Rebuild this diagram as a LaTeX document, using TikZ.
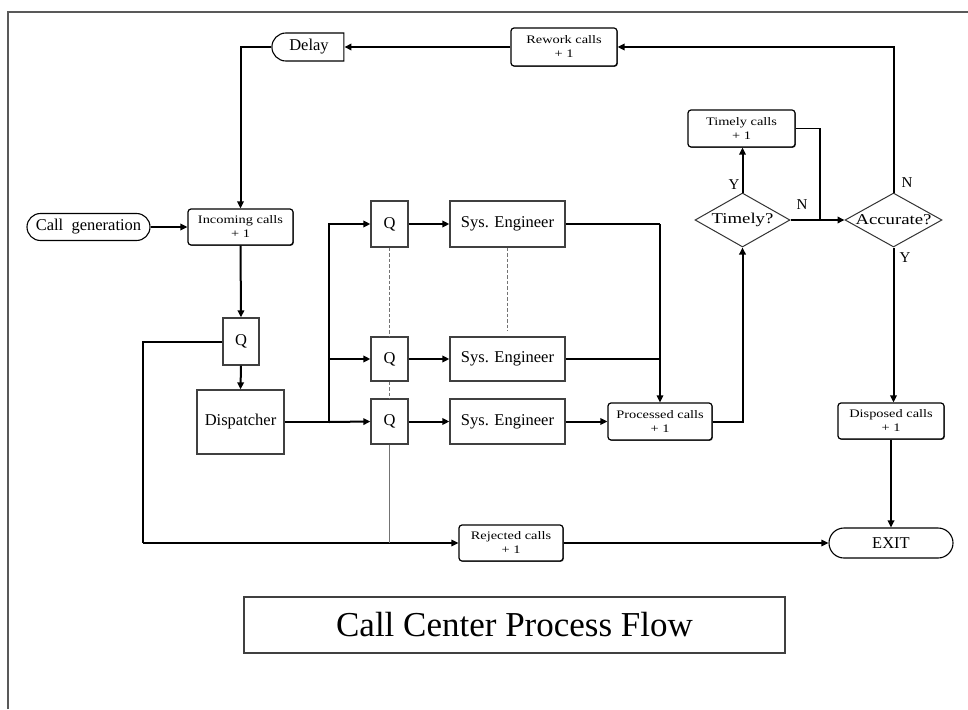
\documentclass[tikz,border=0pt]{standalone}
\usepackage{fontspec}
\setmainfont{Liberation Serif}
\newfontfamily\cntfont[FakeStretch=1.25]{Liberation Serif}
\usetikzlibrary{arrows.meta,shapes.geometric,shapes.misc,shadows}
\begin{document}
\begin{tikzpicture}[x=1pt,y=-1pt,
  box/.style={draw=black!75, line width=1.3pt, fill=white, inner sep=0pt,
    font=\fontsize{16.5}{18}\selectfont},
  cnt/.style={draw=black, line width=1.2pt, rounded corners=3pt, fill=white,
    align=center, inner sep=0pt, font=\cntfont\fontsize{11.5}{14}\selectfont,
    drop shadow={shadow xshift=0.8pt, shadow yshift=-0.8pt, fill=black!70, opacity=1}},
  term/.style={rounded rectangle, draw=black, line width=1.1pt, fill=white,
    inner sep=0pt, font=\fontsize{16.5}{18}\selectfont},
  dia/.style={diamond, draw=black!80, line width=1pt, fill=white, inner sep=0pt,
    font=\cntfont\fontsize{15}{17}\selectfont},
  lbl/.style={font=\fontsize{15}{17}\selectfont, inner sep=0pt},
  thk/.style={line width=2pt, black},
  arr/.style={line width=2pt, black, -{Triangle[length=7pt,width=6.5pt]}},
  marr/.style={line width=1.5pt, black, -{Triangle[length=7pt,width=6.5pt]}},
  mid/.style={line width=1.5pt, black},
  dsh/.style={line width=1.6pt, black!55, dash pattern=on 3.5pt off 2pt},
]
\useasboundingbox (0,0) rectangle (968,709);
% frame
\draw[line width=2.5pt, black!65] (8,709) -- (8,12) -- (968,12);

% nodes
\node[term, minimum width=123, minimum height=27] (cg) at (88.5,227) {Call\ \ generation};
\node[term, rounded rectangle right arc=none, minimum width=72, minimum height=28] (delay) at (309,47) {Delay};
\node[cnt, minimum width=106, minimum height=38] (rew) at (564,47) {Rework calls\\+ 1};
\node[cnt, minimum width=105, minimum height=36] (inc) at (240.5,227) {Incoming calls\\+ 1};
\node[box, minimum width=36, minimum height=47] (q1) at (241,341.5) {Q};
\node[box, minimum width=87, minimum height=64] (disp) at (240.5,422) {Dispatcher};
\node[box, minimum width=37, minimum height=46] (qa) at (389.5,224) {Q};
\node[box, minimum width=115, minimum height=46] (sa) at (507.5,224) {Sys. Engineer};
\node[box, minimum width=37, minimum height=44] (qb) at (389.5,359) {Q};
\node[box, minimum width=115, minimum height=44] (sb) at (507.5,359) {Sys. Engineer};
\node[box, minimum width=37, minimum height=45] (qc) at (389.5,421.5) {Q};
\node[box, minimum width=115, minimum height=45] (sc) at (507.5,421.5) {Sys. Engineer};
\node[cnt, minimum width=104, minimum height=37] (proc) at (660,421.5) {Processed calls\\+ 1};
\node[dia, minimum width=95, minimum height=54] (tim) at (742.5,220) {\makebox[0pt]{Timely?}};
\node[cnt, minimum width=107, minimum height=37] (tc) at (741.5,128.5) {Timely calls\\+ 1};
\node[dia, minimum width=97, minimum height=54] (acc) at (893.5,220) {\makebox[0pt]{Accurate?}};
\node[cnt, minimum width=106, minimum height=36] (dsp) at (891,421) {Disposed calls\\+ 1};
\node[term, minimum width=124, minimum height=30] (exit) at (891,543) {EXIT};
\node[cnt, minimum width=104, minimum height=36] (rej) at (511,543) {Rejected calls\\+ 1};
\node[draw=black!75, line width=1.3pt, minimum width=541, minimum height=56,
  font=\fontsize{35}{40}\selectfont] (title) at (514.5,625) {Call Center Process Flow};

% labels
\node[lbl] (ly1) at (734,185) {Y};
\node[lbl] (ln1) at (802,205) {N};
\node[lbl] (ln2) at (907,183) {N};
\node[lbl] (ly2) at (905,258) {Y};

% coordinates
\coordinate (j) at (329,422);
\coordinate (lc) at (143,543);
\coordinate (tj) at (820,220);

% connectors
\draw[arr] (cg.east) -- (inc.west);
\draw[arr] (delay.west) -| (inc.north);
\draw[arr] (rew.west) -- (delay.east);
\draw[arr] (acc.north) |- (rew.east);
\draw[arr] (inc.south) -- (q1.north);
\draw[arr] (q1.south) -- (disp.north);
\draw[thk] (q1.west) -| (lc);
\draw[marr] (lc) -- (rej.west);
\draw[thk] (disp.east) -- (j);
\draw[arr] (j) -- (qc.west);
\draw[arr] (j) |- (qa.west);
\draw[arr] (j) |- (qb.west);
\draw[arr] (qa.east) -- (sa.west);
\draw[arr] (qb.east) -- (sb.west);
\draw[arr] (qc.east) -- (sc.west);
\draw[dsh] (qa.south) -- (qb.north);
\draw[dsh, shorten >=5pt] (sa.south) -- (sb.north);
\draw[dsh] (qb.south) -- (qc.north);
\draw[line width=1pt, black!55] (qc.south) -- (qc.south |- rej.west);
\draw[thk] (sa.east) -- (sa.east -| proc.north);
\draw[marr] (sa.east -| proc.north) -- (proc.north);
\draw[line width=1.2pt] (sb.east) -- (sb.east -| proc.north);
\draw[arr] (sc.east) -- (proc.west);
\draw[arr] (proc.east) -| (tim.south);
\draw[arr] (tim.north) -- (tim.north |- tc.south);
\draw[arr] (tim.east) -- (acc.west);
\draw[mid] (tc.east) -| (tj);
\draw[arr] (acc.south) -- (acc.south |- dsp.north);
\draw[arr] (dsp.south) -- (dsp.south |- exit.north);
\draw[marr] (rej.east) -- (exit.west);
\end{tikzpicture}
\end{document}
